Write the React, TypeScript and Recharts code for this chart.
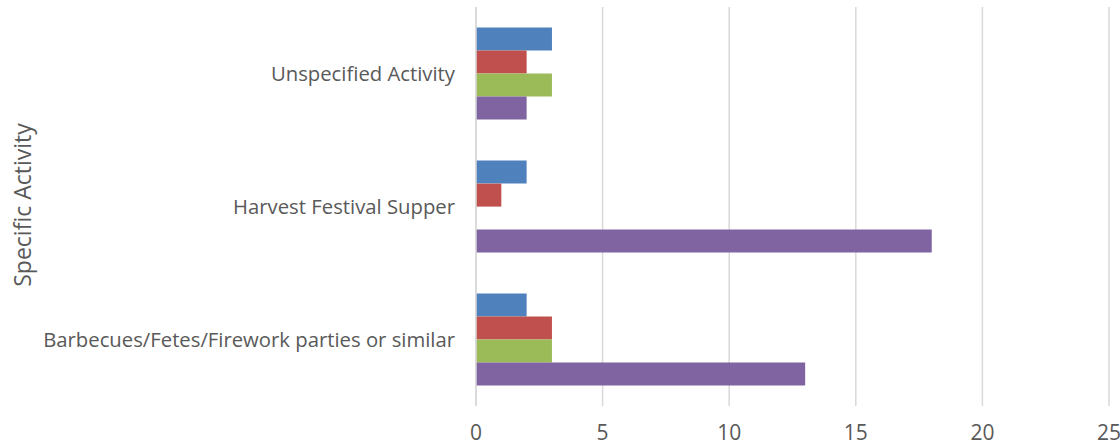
import React from 'react';
import { BarChart, Bar, XAxis, YAxis, CartesianGrid } from 'recharts';

const categories = ['Unspecified Activity', 'Harvest Festival Supper', 'Barbecues/Fetes/Firework parties or similar'];
const seriesA = [3, 2, 2];
const seriesB = [2, 1, 3];
const seriesC = [3, null, 3];
const seriesD = [2, 18, 13];
const xTicks = [0, 5, 10, 15, 20, 25];

const data = categories.map((name, i) => ({
  name,
  a: seriesA[i],
  b: seriesB[i],
  c: seriesC[i],
  d: seriesD[i],
}));

const FONT = '"Open Sans", sans-serif';
const TEXT = '#595959';

function AxisTitle() {
  return (
    <text
      x={22}
      y={205}
      transform="rotate(-90, 22, 205)"
      textAnchor="middle"
      dominantBaseline="central"
      fill={TEXT}
      fontSize={23}
      fontFamily={FONT}
    >
      Specific Activity
    </text>
  );
}

export default function App() {
  return (
    <div style={{ position: 'absolute', left: 0, top: 0, width: 1120, height: 448, background: '#fff' }}>
      <BarChart
        width={1120}
        height={448}
        data={data}
        layout="vertical"
        margin={{ top: 7, right: 11, bottom: 0, left: 0 }}
        barCategoryGap="15.5%"
        barGap={0}
      >
        <CartesianGrid horizontal={false} stroke="#d9d9d9" strokeWidth={1.5} />
        <XAxis
          type="number"
          domain={[0, 25]}
          ticks={xTicks}
          axisLine={false}
          tickLine={false}
          height={42}
          tickMargin={13}
          tick={{ fill: TEXT, fontSize: 21, fontFamily: FONT }}
        />
        <YAxis
          type="category"
          dataKey="name"
          width={476}
          axisLine={{ stroke: '#d9d9d9', strokeWidth: 1.5 }}
          tickLine={false}
          tickMargin={15}
          tick={{ fill: TEXT, fontSize: 20.3, fontFamily: FONT }}
          label={<AxisTitle />}
        />
        <Bar dataKey="a" fill="#4f81bd" isAnimationActive={false} />
        <Bar dataKey="b" fill="#c0504d" isAnimationActive={false} />
        <Bar dataKey="c" fill="#9bbb59" isAnimationActive={false} />
        <Bar dataKey="d" fill="#8064a2" isAnimationActive={false} />
      </BarChart>
    </div>
  );
}
